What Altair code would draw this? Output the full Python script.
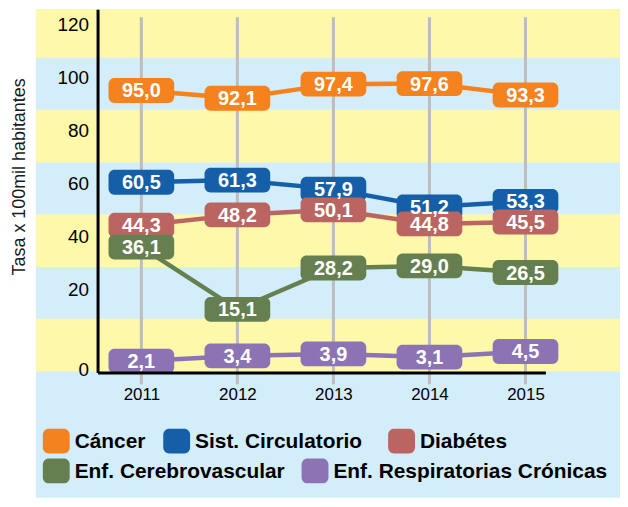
import altair as alt
import pandas as pd

# ---- data ----
years = [2011, 2012, 2013, 2014, 2015]
series = ["Cáncer", "Sist. Circulatorio", "Diabétes",
          "Enf. Cerebrovascular", "Enf. Respiratorias Crónicas"]
cancer = [95.0, 92.1, 97.4, 97.6, 93.3]
circulatorio = [60.5, 61.3, 57.9, 51.2, 53.3]
diabetes = [44.3, 48.2, 50.1, 44.8, 45.5]
cerebro = [36.1, 15.1, 28.2, 29.0, 26.5]
respiratorias = [2.1, 3.4, 3.9, 3.1, 4.5]
y_ticks = [0, 20, 40, 60, 80, 100, 120]

# ---- style ----
colors = ["#f3821f", "#155fa8", "#ba6562", "#667f50", "#8b73b4"]
YELLOW = "#fef8ab"
LIGHTBLUE = "#d3eefa"
GRID = "#bdbdbd"
FONT = "Liberation Sans"
W, H = 450, 365
# legend layout: (swatch left x, row centre y) in plot pixels
legend_layout = [(-55, 434), (66, 434), (292, 434), (-55, 464), (205, 464)]
SW = 27  # swatch size

rows = []
for name, vals in zip(series, [cancer, circulatorio, diabetes, cerebro, respiratorias]):
    for yr, v in zip(years, vals):
        rows.append({"serie": name, "year": yr, "value": v})
df = pd.DataFrame(rows)
df_years = pd.DataFrame({"year": years})

xscale = alt.Scale(domain=[2010.544, 2015.207], nice=False, zero=False)
yscale = alt.Scale(domain=[-0.75, 20, 125.6], range=[H, 282, 0], nice=False, zero=False)
cscale = alt.Scale(domain=series, range=colors)

one = alt.Data(values=[{}])

bg = alt.Chart(one).mark_rect(color=LIGHTBLUE).encode(
    x=alt.value(-62), x2=alt.value(525), y=alt.value(0), y2=alt.value(491))
stripe_edges = [(0, 49), (101, 154), (206, 259), (311, 364)]
stripes = [
    alt.Chart(one).mark_rect(color=YELLOW).encode(
        x=alt.value(-62), x2=alt.value(525), y=alt.value(a), y2=alt.value(b))
    for a, b in stripe_edges
]

grid = alt.Chart(df_years).mark_rule(color=GRID, strokeWidth=3).encode(
    x=alt.X("year:Q", scale=xscale,
            axis=alt.Axis(values=years, format="d", title=None, ticks=False,
                          grid=False, domainColor="black", domainWidth=3,
                          labelFont=FONT, labelFontSize=17, labelColor="black",
                          labelPadding=14, zindex=1)),
    y=alt.value(8), y2=alt.value(377))

base = alt.Chart(df).encode(
    x=alt.X("year:Q", scale=xscale),
    y=alt.Y("value:Q", scale=yscale,
            axis=alt.Axis(values=y_ticks, title="Tasa x 100mil habitantes",
                          ticks=False, grid=False, domainColor="black",
                          domainWidth=3, labelFont=FONT, labelFontSize=19,
                          labelColor="black", labelPadding=9,
                          titleFont=FONT, titleFontSize=18,
                          titleFontWeight="normal", titleColor="#1a1a1a",
                          titleAngle=270, titleBaseline="middle",
                          titleX=-78, titleY=168, zindex=1)),
)

lines = base.mark_line(strokeWidth=4.5).encode(
    color=alt.Color("serie:N", scale=cscale, legend=None))

boxes = base.mark_rect(cornerRadius=6, xOffset=-33, x2Offset=33,
                       yOffset=-12.5, y2Offset=12.5).encode(
    x2="year:Q", y2="value:Q",
    color=alt.Color("serie:N", scale=cscale, legend=None))

labels = base.transform_calculate(
    lab="replace(format(datum.value, '.1f'), '.', ',')"
).mark_text(color="white", font=FONT, fontSize=20, fontWeight="bold",
            baseline="middle", dy=1).encode(text="lab:N", detail="serie:N")

# manual legend (flowing rows like the reference)
legend_layers = []
for name, col, (lx, ly) in zip(series, colors, legend_layout):
    item = alt.Chart(alt.Data(values=[{"serie": name}]))
    legend_layers.append(
        item.mark_rect(cornerRadius=6, color=col).encode(
            x=alt.value(lx), x2=alt.value(lx + SW),
            y=alt.value(ly - 12.5), y2=alt.value(ly + 12.5)))
    legend_layers.append(
        item.mark_text(font=FONT, fontSize=21, fontWeight="bold", color="black",
                       align="left", baseline="middle", dy=1).encode(
            x=alt.value(lx + SW + 5), y=alt.value(ly), text="serie:N"))

chart = alt.layer(bg, *stripes, grid, lines, boxes, labels, *legend_layers).properties(
    width=W, height=H,
    autosize=alt.AutoSizeParams(type="none"),
    padding={"left": 90, "top": 0, "right": 75, "bottom": 126},
).configure_view(stroke=None)

chart.save("out.html", embed_options={"renderer": "svg", "actions": False})
